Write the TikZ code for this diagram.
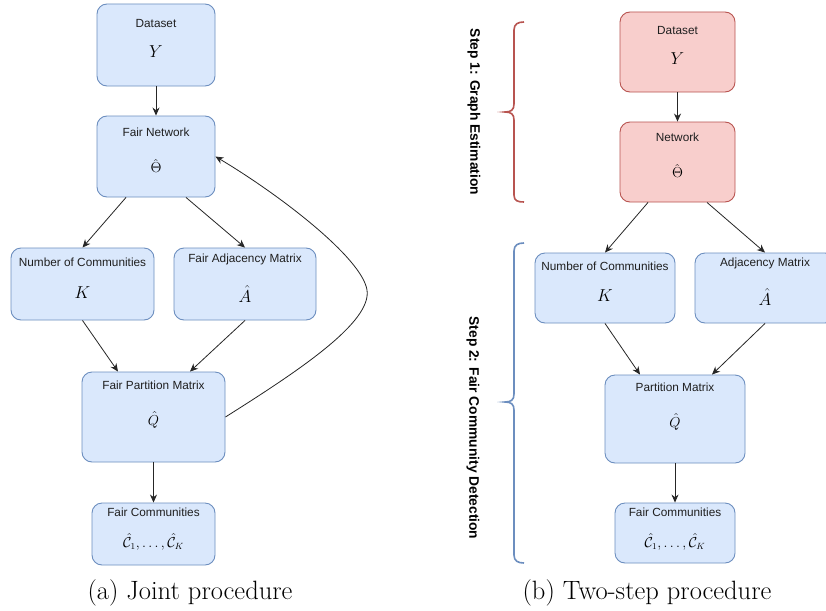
\documentclass[tikz,border=0pt]{standalone}
\usepackage{fontspec}
\setsansfont{Liberation Sans}
\usetikzlibrary{arrows.meta}
\definecolor{bfill}{HTML}{DAE8FC}
\definecolor{bdraw}{HTML}{6C8EBF}
\definecolor{rfill}{HTML}{F8CECC}
\definecolor{rdraw}{HTML}{B85450}
\begin{document}
\begin{tikzpicture}[x=1pt,y=-1pt,
  bbox/.style={draw=bdraw,fill=bfill,rounded corners=10pt,line width=0.9pt,inner sep=0pt},
  rbox/.style={draw=rdraw,fill=rfill,rounded corners=10pt,line width=0.9pt,inner sep=0pt},
  ttl/.style={font=\sffamily\fontsize{11.8}{13}\selectfont,text=black!88,inner sep=0pt},
  mth/.style={inner sep=0pt},
  arr/.style={-{Stealth[length=8pt,width=7pt]},line width=0.8pt,black!85},
  captxt/.style={font=\fontsize{26.5}{28}\selectfont,inner sep=0pt},
  steplbl/.style={font=\sffamily\bfseries\fontsize{13.8}{15}\selectfont,rotate=-90,inner sep=0pt},
  brc/.style={line width=1.6pt}]
\clip (0,0) rectangle (826,610);
\fill[white] (0,0) rectangle (826,610);
% ---------- (a) joint procedure ----------
\node[bbox,minimum width=118pt,minimum height=82pt] (ds) at (156,45) {};
\node[ttl] (dsT) at (156,23) {Dataset};
\node[mth,font=\fontsize{18}{20}\selectfont] (dsM) at (156,52) {$Y$};
\node[bbox,minimum width=118pt,minimum height=81pt] (fn) at (156,156.5) {};
\node[ttl] (fnT) at (156,132) {Fair Network};
\node[mth,font=\fontsize{15}{17}\selectfont] (fnM) at (156,166) {$\hat{\Theta}$};
\node[bbox,minimum width=143pt,minimum height=72pt] (nc) at (82.5,284) {};
\node[ttl] (ncT) at (82.5,262) {Number of Communities};
\node[mth,font=\fontsize{17}{19}\selectfont] (ncM) at (82.5,293) {$K$};
\node[bbox,minimum width=142pt,minimum height=72pt] (fa) at (245,284) {};
\node[ttl] (faT) at (245,259) {Fair Adjacency Matrix};
\node[mth,font=\fontsize{16}{18}\selectfont] (faM) at (245,294) {$\hat{A}$};
\node[bbox,minimum width=143pt,minimum height=90pt] (pm) at (153.5,417) {};
\node[ttl] (pmT) at (153.5,385) {Fair Partition Matrix};
\node[mth,font=\fontsize{15}{17}\selectfont] (pmM) at (153.5,420) {$\hat{Q}$};
\node[bbox,minimum width=123pt,minimum height=62pt] (fc) at (153.5,534) {};
\node[ttl] (fcT) at (153.5,512) {Fair Communities};
\node[mth,font=\fontsize{13.5}{15}\selectfont] (fcM) at (153.5,542) {$\hat{\mathcal{C}}_1,\ldots,\hat{\mathcal{C}}_K$};
\draw[arr] (ds.south) -- (fn.north);
\draw[arr] ([xshift=-30pt]fn.south) -- (nc.north);
\draw[arr] ([xshift=30pt]fn.south) -- (fa.north);
\draw[arr] (nc.south) -- ([xshift=-35.5pt]pm.north);
\draw[arr] (fa.south) -- ([xshift=36.5pt]pm.north);
\draw[arr] (pm.south) -- (fc.north);
\coordinate (bend) at (367,290);
\draw[arr] (pm.east) .. controls (300,370) and (372,322) .. (bend)
  .. controls (362,258) and (280,195) .. (fn.east);
\node[captxt] (capa) at (190,593) {(a) Joint procedure};
% ---------- (b) two-step procedure ----------
\node[rbox,minimum width=115pt,minimum height=80pt] (ds2) at (677.5,52) {};
\node[ttl] (ds2T) at (677.5,30) {Dataset};
\node[mth,font=\fontsize{18}{20}\selectfont] (ds2M) at (677.5,59) {$Y$};
\node[rbox,minimum width=115pt,minimum height=80pt] (nw2) at (677.5,162) {};
\node[ttl] (nw2T) at (677.5,137) {Network};
\node[mth,font=\fontsize{15}{17}\selectfont] (nw2M) at (677.5,171) {$\hat{\Theta}$};
\node[bbox,minimum width=140pt,minimum height=70pt] (nc2) at (605,288) {};
\node[ttl] (nc2T) at (605,266) {Number of Communities};
\node[mth,font=\fontsize{17}{19}\selectfont] (nc2M) at (605,296) {$K$};
\node[bbox,minimum width=140pt,minimum height=70pt] (am2) at (765,288) {};
\node[ttl] (am2T) at (765,263) {Adjacency Matrix};
\node[mth,font=\fontsize{16}{18}\selectfont] (am2M) at (765,297) {$\hat{A}$};
\node[bbox,minimum width=140pt,minimum height=88pt] (pm2) at (675,419) {};
\node[ttl] (pm2T) at (675,387) {Partition Matrix};
\node[mth,font=\fontsize{15}{17}\selectfont] (pm2M) at (675,422) {$\hat{Q}$};
\node[bbox,minimum width=120pt,minimum height=60pt] (fc2) at (675,533) {};
\node[ttl] (fc2T) at (675,512) {Fair Communities};
\node[mth,font=\fontsize{13.5}{15}\selectfont] (fc2M) at (675,542) {$\hat{\mathcal{C}}_1,\ldots,\hat{\mathcal{C}}_K$};
\draw[arr] (ds2.south) -- (nw2.north);
\draw[arr] ([xshift=-29.5pt]nw2.south) -- (nc2.north);
\draw[arr] ([xshift=29.5pt]nw2.south) -- (am2.north);
\draw[arr] (nc2.south) -- ([xshift=-35pt]pm2.north);
\draw[arr] (am2.south) -- ([xshift=37pt]pm2.north);
\draw[arr] (pm2.south) -- (fc2.north);
\node[captxt] (capb) at (647,593) {(b) Two-step procedure};
% braces
\draw[brc,rdraw] (524,22) .. controls (518,22) and (514,24) .. (514,30) -- (514,104)
  .. controls (514,110) and (511,112) .. (505,112)
  .. controls (511,112) and (514,114) .. (514,120) -- (514,195)
  .. controls (514,201) and (518,202) .. (524,202);
\draw[brc,bdraw] (524,243) .. controls (518,243) and (514,245) .. (514,251) -- (514,394)
  .. controls (514,400) and (511,402) .. (505,402)
  .. controls (511,402) and (514,404) .. (514,410) -- (514,555)
  .. controls (514,561) and (518,563) .. (524,563);
\node[steplbl] (s1) at (474,112) {Step 1: Graph Estimation};
\node[steplbl] (s2) at (473,428) {Step 2: Fair Community Detection};
\end{tikzpicture}
\end{document}
